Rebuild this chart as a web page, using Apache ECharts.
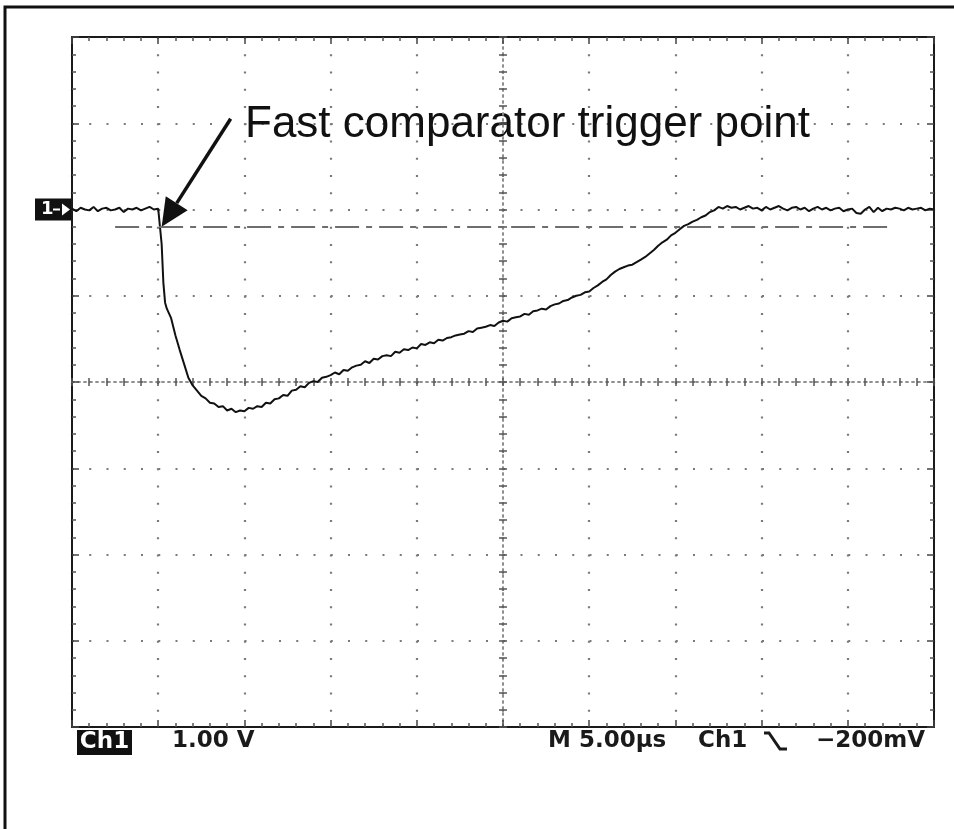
<!DOCTYPE html>
<html>
<head>
<meta charset="utf-8">
<script src="https://cdn.jsdelivr.net/npm/echarts@6/dist/echarts.min.js"></script>
<style>
	body { margin: 0; background: #fff; }
	#scope { width: 954px; height: 829px; }
</style>
</head>
<body>
<div id="scope"></div>
<script>
	// time axis in µs (5 µs/div), volts relative to channel 1 ground marker (1 V/div)
	var timeTicks = [-5, 45, 5];
	var voltTicks = [-6, 2, 1];
	var triggerLevel = -0.2;
	var triggerLineSpan = [-2.5, 42.5];
	var triggerTime = 0.2;

	// [t (µs), v (V)]
	var trace = [
		[-5.0, 0.01], [-4.75, -0.02], [-4.5, 0.02], [-4.25, 0.00], [-4.0, -0.01], [-3.75, 0.03],
		[-3.5, -0.02], [-3.25, 0.01], [-3.0, 0.02], [-2.75, -0.01], [-2.5, 0.00], [-2.25, 0.02],
		[-2.0, -0.03], [-1.75, 0.01], [-1.5, 0.00], [-1.25, 0.02], [-1.0, -0.01], [-0.75, 0.01],
		[-0.5, 0.03], [-0.25, 0.00], [0.0, 0.01], [0.1, 0.00], [0.2, -0.40], [0.3, -0.85],
		[0.4, -1.08], [0.5, -1.15], [0.75, -1.26], [1.0, -1.46], [1.25, -1.63], [1.5, -1.79],
		[1.75, -1.95], [2.0, -2.04], [2.25, -2.10], [2.5, -2.16], [2.75, -2.19], [3.0, -2.24],
		[3.25, -2.25], [3.5, -2.29], [3.75, -2.28], [4.0, -2.33], [4.25, -2.31], [4.5, -2.35],
		[4.75, -2.33], [5.0, -2.34], [5.25, -2.30], [5.5, -2.31], [5.75, -2.28], [6.0, -2.29],
		[6.25, -2.24], [6.5, -2.25], [6.75, -2.20], [7.0, -2.19], [7.25, -2.15], [7.5, -2.16],
		[7.75, -2.10], [8.0, -2.09], [8.25, -2.05], [8.5, -2.06], [8.75, -2.01], [9.0, -1.99],
		[9.25, -2.00], [9.5, -1.95], [9.75, -1.94], [10.0, -1.92], [10.25, -1.89], [10.5, -1.91],
		[10.75, -1.86], [11.0, -1.87], [11.25, -1.83], [11.5, -1.81], [11.75, -1.80], [12.0, -1.76],
		[12.25, -1.78], [12.5, -1.73], [12.75, -1.74], [13.0, -1.70], [13.25, -1.69], [13.5, -1.70],
		[13.75, -1.65], [14.0, -1.66], [14.25, -1.62], [14.5, -1.63], [14.75, -1.60], [15.0, -1.61],
		[15.25, -1.56], [15.5, -1.57], [15.75, -1.54], [16.0, -1.55], [16.25, -1.51], [16.5, -1.52],
		[16.75, -1.49], [17.0, -1.48], [17.25, -1.46], [17.5, -1.45], [17.75, -1.44], [18.0, -1.41],
		[18.25, -1.42], [18.5, -1.38], [18.75, -1.37], [19.0, -1.36], [19.25, -1.34], [19.5, -1.35],
		[19.75, -1.31], [20.0, -1.29], [20.25, -1.30], [20.5, -1.26], [20.75, -1.25], [21.0, -1.24],
		[21.25, -1.21], [21.5, -1.22], [21.75, -1.18], [22.0, -1.17], [22.25, -1.15], [22.5, -1.16],
		[22.75, -1.12], [23.0, -1.10], [23.25, -1.09], [23.5, -1.06], [23.75, -1.05], [24.0, -1.02],
		[24.25, -1.00], [24.5, -0.99], [24.75, -0.96], [25.0, -0.95], [25.25, -0.91], [25.5, -0.88],
		[25.75, -0.84], [26.0, -0.81], [26.25, -0.76], [26.5, -0.72], [26.75, -0.69], [27.0, -0.67],
		[27.25, -0.65], [27.5, -0.64], [27.75, -0.61], [28.0, -0.58], [28.25, -0.55], [28.5, -0.51],
		[28.75, -0.47], [29.0, -0.42], [29.25, -0.38], [29.5, -0.35], [29.75, -0.30], [30.0, -0.27],
		[30.25, -0.23], [30.5, -0.19], [30.75, -0.17], [31.0, -0.14], [31.25, -0.12], [31.5, -0.09],
		[31.75, -0.07], [32.0, -0.03], [32.25, -0.01], [32.5, 0.03], [32.75, 0.01], [33.0, 0.04],
		[33.25, 0.02], [33.5, 0.03], [33.75, 0.00], [34.0, 0.02], [34.25, 0.04], [34.5, 0.01],
		[34.75, 0.02], [35.0, -0.01], [35.25, 0.03], [35.5, 0.00], [35.75, 0.02], [36.0, 0.04],
		[36.25, 0.01], [36.5, -0.01], [36.75, 0.02], [37.0, 0.03], [37.25, 0.00], [37.5, 0.02],
		[37.75, -0.02], [38.0, 0.01], [38.25, 0.03], [38.5, 0.00], [38.75, 0.02], [39.0, -0.01],
		[39.25, 0.01], [39.5, 0.02], [39.75, -0.02], [40.0, 0.00], [40.25, 0.01], [40.5, -0.04],
		[40.75, -0.05], [41.0, 0.00], [41.25, 0.03], [41.5, -0.03], [41.75, 0.02], [42.0, -0.02],
		[42.25, 0.01], [42.5, 0.00], [42.75, 0.02], [43.0, 0.01], [43.25, -0.01], [43.5, 0.02],
		[43.75, 0.00], [44.0, 0.01], [44.25, 0.02], [44.5, -0.01], [44.75, 0.01], [45.0, 0.00]
	];

	var scope = echarts.init(document.getElementById('scope'), null, { renderer: 'canvas' });

	var GRID = { left: 72, top: 37, width: 862, height: 690 };
	var dotted = [2, 15.25];

	function timeAxis(position, offset, opts) {
		return Object.assign({
			type: 'value', position: position, offset: offset,
			min: timeTicks[0], max: timeTicks[1], interval: timeTicks[2],
			axisLine: { onZero: false, lineStyle: { color: '#1a1a1a', width: 2 } },
			axisTick: { inside: true, length: 7, lineStyle: { color: '#444', width: 1.5 } },
			minorTick: { show: true, splitNumber: 5, length: 4, lineStyle: { color: '#555', width: 1.5 } },
			axisLabel: { show: false },
			splitLine: { show: false }
		}, opts || {});
	}

	function voltAxis(position, offset, opts) {
		return Object.assign({
			type: 'value', position: position, offset: offset,
			min: voltTicks[0], max: voltTicks[1], interval: voltTicks[2],
			axisLine: { onZero: false, lineStyle: { color: '#1a1a1a', width: 2 } },
			axisTick: { inside: true, length: 7, lineStyle: { color: '#444', width: 1.5 } },
			minorTick: { show: true, splitNumber: 5, length: 4, lineStyle: { color: '#555', width: 1.5 } },
			axisLabel: { show: false },
			splitLine: { show: false }
		}, opts || {});
	}

	var centreLine = { onZero: false, lineStyle: { color: '#888', width: 1.5, type: [2, 4] } };
	var centreTick = { inside: true, length: 4, lineStyle: { color: '#555', width: 1.5 } };
	var centreMinor = { show: true, splitNumber: 5, length: 4, lineStyle: { color: '#555', width: 1.5 } };

	var option = {
		animation: false,
		backgroundColor: '#fff',
		grid: GRID,
		xAxis: [
			timeAxis('bottom', 0, {
				splitLine: { show: true, lineStyle: { color: '#7a7a7a', width: 2.2, type: dotted } }
			}),
			timeAxis('top', 0),
			timeAxis('top', -GRID.height / 2, { axisLine: centreLine, axisTick: centreTick, minorTick: centreMinor }),
			timeAxis('bottom', -GRID.height / 2, { axisLine: centreLine, axisTick: centreTick, minorTick: centreMinor })
		],
		yAxis: [
			voltAxis('left', 0, {
				splitLine: { show: true, lineStyle: { color: '#7a7a7a', width: 2.2, type: dotted } }
			}),
			voltAxis('right', 0),
			voltAxis('left', -GRID.width / 2, { axisLine: centreLine, axisTick: centreTick, minorTick: centreMinor }),
			voltAxis('right', -GRID.width / 2, { axisLine: centreLine, axisTick: centreTick, minorTick: centreMinor })
		],
		series: [{
			name: 'Ch1',
			type: 'line',
			xAxisIndex: 0,
			yAxisIndex: 0,
			data: trace,
			showSymbol: false,
			symbol: 'none',
			sampling: null,
			lineStyle: { color: '#111', width: 2 },
			markLine: {
				silent: true,
				symbol: 'none',
				label: { show: false },
				lineStyle: { color: '#6e6e6e', width: 2, type: [24, 7, 6, 7] },
				data: [[
					{ coord: [triggerLineSpan[0], triggerLevel] },
					{ coord: [triggerLineSpan[1], triggerLevel] }
				]]
			}
		}]
	};
	scope.setOption(option);

	// arrow tip sits on the trigger point
	var tip = scope.convertToPixel({ xAxisIndex: 0, yAxisIndex: 0 }, [triggerTime, triggerLevel]);
	var tail = [tip[0] + 69, tip[1] - 108];
	var len = Math.sqrt(69 * 69 + 108 * 108);
	var ux = (tip[0] - tail[0]) / len, uy = (tip[1] - tail[1]) / len;
	var base = [tip[0] - 28 * ux, tip[1] - 28 * uy];
	var px = -uy, py = ux;

	var gnd = scope.convertToPixel({ xAxisIndex: 0, yAxisIndex: 0 }, [timeTicks[0], 0]);
	var monoFont = 'bold 23px "DejaVu Sans"';

	scope.setOption({
		graphic: [
			// outer frame of the capture
			{ type: 'rect', shape: { x: 5, y: 7, width: 1200, height: 1200 }, style: { fill: 'none', stroke: '#111', lineWidth: 3 } },
			// annotation
			{ type: 'text', x: 245, y: 125, style: { text: 'Fast comparator trigger point', font: '44px "Liberation Sans"', fill: '#111', textVerticalAlign: 'middle' } },
			{ type: 'line', shape: { x1: tail[0], y1: tail[1], x2: base[0], y2: base[1] }, style: { stroke: '#111', lineWidth: 3.5 } },
			{ type: 'polygon', shape: { points: [tip, [base[0] + 13 * px, base[1] + 13 * py], [base[0] - 13 * px, base[1] - 13 * py]] }, style: { fill: '#111' } },
			// channel 1 ground marker
			{ type: 'rect', shape: { x: gnd[0] - 37, y: gnd[1] - 11, width: 37, height: 22 }, style: { fill: '#111' } },
			{ type: 'text', x: gnd[0] - 31, y: gnd[1], style: { text: '1', font: 'bold 18px "DejaVu Sans"', fill: '#fff', textVerticalAlign: 'middle' } },
			{ type: 'line', shape: { x1: gnd[0] - 19, y1: gnd[1], x2: gnd[0] - 12, y2: gnd[1] }, style: { stroke: '#fff', lineWidth: 2 } },
			{ type: 'polygon', shape: { points: [[gnd[0] - 10, gnd[1] - 6], [gnd[0] - 2, gnd[1]], [gnd[0] - 10, gnd[1] + 6]] }, style: { fill: '#fff' } },
			// readouts
			{ type: 'rect', shape: { x: 77, y: 730, width: 55, height: 25 }, style: { fill: '#111' } },
			{ type: 'text', x: 104.5, y: 742.5, style: { text: 'Ch1', font: monoFont, fill: '#fff', textAlign: 'center', textVerticalAlign: 'middle' } },
			{ type: 'text', x: 172, y: 741, style: { text: '1.00 V', font: monoFont, fill: '#1a1a1a', textVerticalAlign: 'middle' } },
			{ type: 'text', x: 548, y: 741, style: { text: 'M 5.00µs', font: monoFont, fill: '#1a1a1a', textVerticalAlign: 'middle' } },
			{ type: 'text', x: 698, y: 741, style: { text: 'Ch1', font: monoFont, fill: '#1a1a1a', textVerticalAlign: 'middle' } },
			{ type: 'polyline', shape: { points: [[764, 733], [769, 733], [780, 749], [787, 749]] }, style: { stroke: '#1a1a1a', lineWidth: 3, fill: 'none' } },
			{ type: 'text', x: 925, y: 741, style: { text: '−200mV', font: monoFont, fill: '#1a1a1a', textAlign: 'right', textVerticalAlign: 'middle' } }
		]
	});
</script>
</body>
</html>
